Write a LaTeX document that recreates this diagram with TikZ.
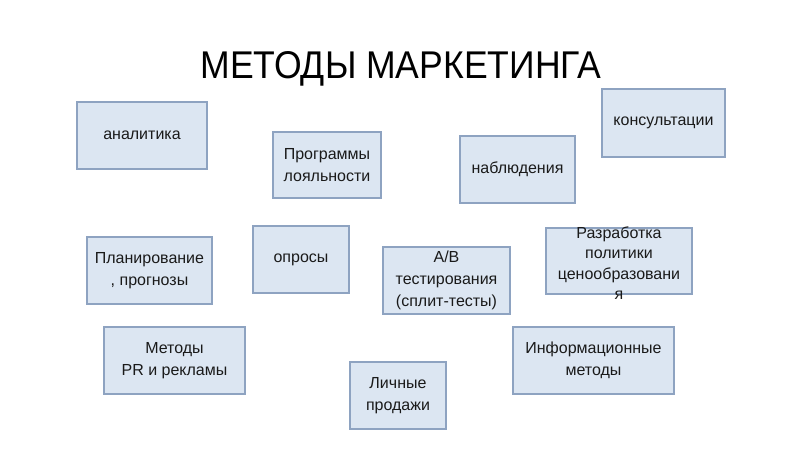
\documentclass[tikz,border=0pt]{standalone}
\usepackage{fontspec}
\setmainfont{Liberation Sans}
\newfontfamily\titlefont[FakeStretch=0.92]{Liberation Sans}
\definecolor{boxfill}{HTML}{DCE6F2}
\definecolor{boxline}{HTML}{8EA3C1}
\definecolor{txt}{HTML}{1A1A1A}
\begin{document}
\begin{tikzpicture}[x=0.75pt,y=-0.75pt,
  mbox/.style={draw=boxline,fill=boxfill,line width=0.8pt,inner sep=0pt,
    text=txt,align=center,font=\fontsize{12pt}{16.3pt}\selectfont},
  btext/.style={text=txt,align=center,inner sep=0pt,font=\fontsize{12pt}{15.2pt}\selectfont},
  title/.style={text=black,inner sep=0pt,font=\titlefont\fontsize{29pt}{32pt}\selectfont}]
\useasboundingbox (0,0) rectangle (800,450);
\fill[white] (0,0) rectangle (800,450);
\node[title] (t) at (401,69) {МЕТОДЫ МАРКЕТИНГА};
\node[mbox,minimum width=130*0.75pt,minimum height=67*0.75pt] (analit) at (142,135.5) {аналитика};
\node[mbox,minimum width=108*0.75pt,minimum height=66*0.75pt] (prog) at (327,165) {Программы\\лояльности};
\node[mbox,minimum width=115*0.75pt,minimum height=67*0.75pt] (nabl) at (517.5,169.5) {наблюдения};
\node[mbox,minimum width=123*0.75pt,minimum height=68*0.75pt] (kons) at (663.5,123) {консультации};
\node[mbox,minimum width=125*0.75pt,minimum height=67*0.75pt] (plan) at (149.5,270.5) {Планирование\\, прогнозы};
\node[mbox,minimum width=96*0.75pt,minimum height=67*0.75pt] (opros) at (301,259.5) {опросы};
\node[mbox,minimum width=127*0.75pt,minimum height=67*0.75pt] (ab) at (446.5,280.5) {A/B\\тестирования\\(сплит-тесты)};
\node[mbox,minimum width=146*0.75pt,minimum height=66*0.75pt] (razr) at (619,261) {};
\node[btext] (razrt) at (619,263) {Разработка\\политики\\ценообразовани\\я};
\node[mbox,minimum width=141*0.75pt,minimum height=67*0.75pt] (pr) at (174.5,360.5) {Методы\\PR и рекламы};
\node[mbox,minimum width=96*0.75pt,minimum height=67*0.75pt] (lich) at (398,395.5) {Личные\\продажи};
\node[mbox,minimum width=161*0.75pt,minimum height=67*0.75pt] (inf) at (593.5,360.5) {Информационные\\методы};
\end{tikzpicture}
\end{document}
